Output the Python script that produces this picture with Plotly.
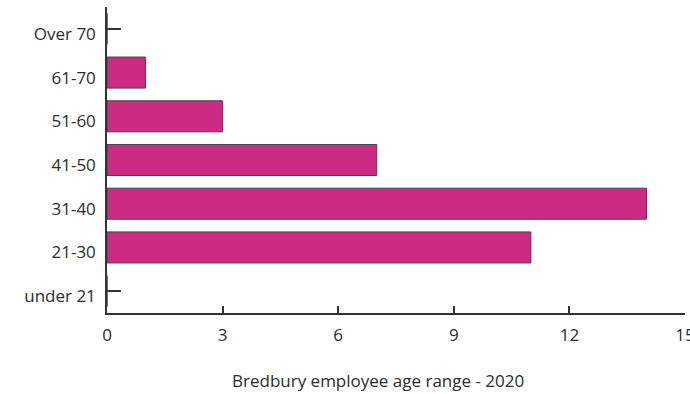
import plotly.graph_objects as go

categories = ["under 21", "21-30", "31-40", "41-50", "51-60", "61-70", "Over 70"]
employees = [0, 11, 14, 7, 3, 1, 0]
x_ticks = [0, 3, 6, 9, 12, 15]
x_title = "Bredbury employee age range - 2020"

FONT = "Open Sans, sans-serif"
TXT = "#2b2b2b"
FS = 17

fig = go.Figure(go.Bar(
    x=employees, y=categories, orientation="h", width=0.71,
    marker=dict(color="#CC2B84", line=dict(color="#444444", width=1)),
))

fig.update_layout(
    width=690, height=394,
    margin=dict(l=107, r=5, t=7, b=81, autoexpand=False),
    paper_bgcolor="white", plot_bgcolor="white",
    showlegend=False,
    font=dict(family=FONT, size=FS, color=TXT),
    xaxis=dict(
        range=[0, 15], tickvals=x_ticks, ticktext=[str(v) for v in x_ticks],
        showgrid=False, zeroline=False, showline=True, linecolor="#333333", linewidth=1.5,
        ticks="inside", ticklen=7, tickcolor="#333333", tickwidth=1.5,
        ticklabelstandoff=6, ticklabeloverflow="allow", automargin=False,
        tickfont=dict(family=FONT, size=FS, color=TXT),
        layer="below traces",
    ),
    yaxis=dict(
        type="category", categoryorder="array", categoryarray=categories,
        range=[-0.5, 6.5],
        showgrid=False, zeroline=False, showline=True, linecolor="#333333", linewidth=1.5,
        ticks="inside", ticklen=14, tickcolor="#333333", tickwidth=1.5,
        ticklabelstandoff=6, ticklabelshift=5, automargin=False,
        tickfont=dict(family=FONT, size=FS, color=TXT),
        layer="below traces",
    ),
    annotations=[dict(
        text=x_title, xref="paper", yref="paper", x=0.469, y=0, yshift=-67,
        xanchor="center", yanchor="middle", showarrow=False,
        font=dict(family=FONT, size=FS, color=TXT),
    )],
)

fig.write_html("out.html")
